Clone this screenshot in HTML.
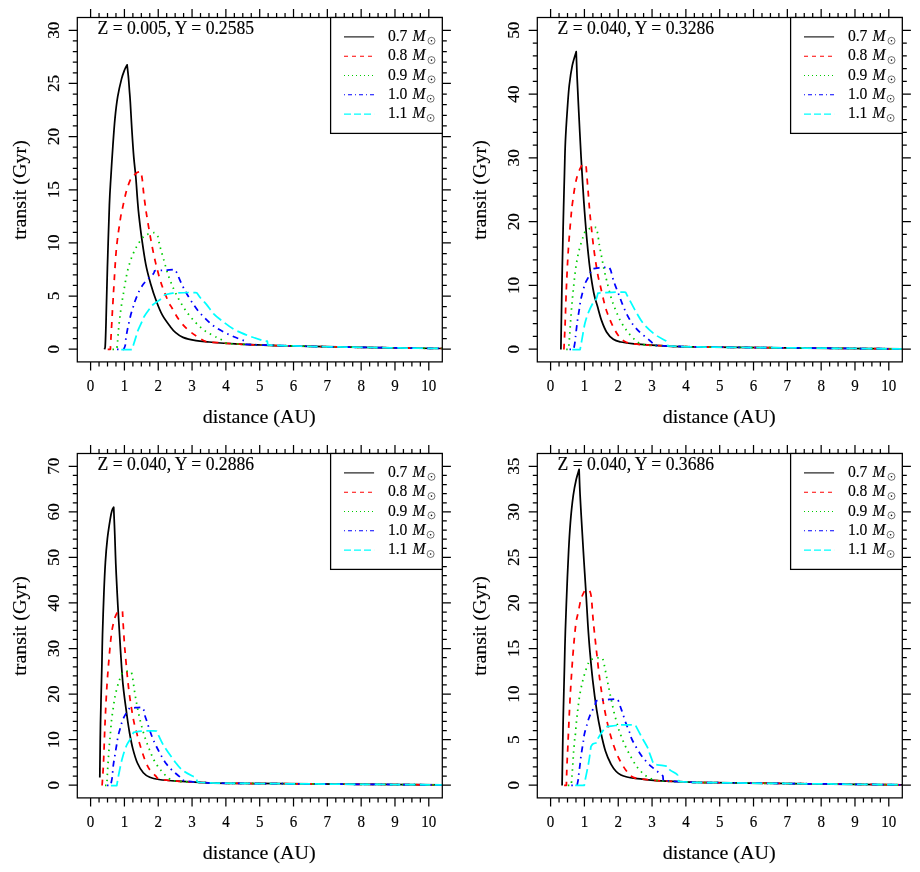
<!DOCTYPE html>
<html><head><meta charset="utf-8"><title>transit</title>
<style>
html,body{margin:0;padding:0;background:#fff;overflow:hidden}
svg{display:block;will-change:transform}
text{font-family:"Liberation Serif",serif;fill:#000;stroke:#000;stroke-width:0.15px}
.ax{stroke:#000;stroke-width:1.25;fill:none;stroke-linecap:butt}
.cv{fill:none;stroke-width:1.75;stroke-linejoin:round;stroke-linecap:butt}
.lg{fill:none;stroke-width:1.05}
.tk{font-size:16px;text-anchor:middle}
.lb{font-size:20px;text-anchor:middle}
.tt{font-size:17.5px}
.le{font-size:16.5px}
</style></head>
<body>
<svg width="920" height="872" viewBox="0 0 920 872">
<rect width="920" height="872" fill="#fff"/>
<g transform="translate(0,0)">
<clipPath id="c0"><rect x="77.3" y="17.5" width="365" height="344.4"/></clipPath>
<g clip-path="url(#c0)">
<path class="cv" stroke="#000000" d="M104.3 349.3 C104.45 348.83 104.93 350.13 105.2 346.5 C105.47 342.87 105.7 334.1 105.9 327.5 C106.1 320.9 106.15 316.77 106.4 306.9 C106.65 297.03 106.9 285.28 107.4 268.3 C107.9 251.32 108.82 220.22 109.4 205 C109.98 189.78 110.32 186.88 110.9 177 C111.48 167.12 112.22 155.48 112.9 145.7 C113.58 135.92 114.2 126.47 115 118.3 C115.8 110.13 116.62 103.23 117.7 96.7 C118.78 90.17 120.35 83.58 121.5 79.1 C122.65 74.62 123.67 72.17 124.6 69.8 C125.53 67.43 126.68 65.72 127.1 64.9 L127.1 64.9 C127.33 67.08 128.12 73.82 128.5 78 C128.88 82.18 129.1 86 129.4 90 C129.7 94 129.88 95.33 130.3 102 C130.72 108.67 131.32 120.77 131.9 130 C132.48 139.23 133.15 149.57 133.8 157.4 C134.45 165.23 135.18 169.9 135.8 177 C136.42 184.1 136.98 193.6 137.5 200 C138.02 206.4 138.18 208.92 138.9 215.4 C139.62 221.88 140.65 230.75 141.8 238.9 C142.95 247.05 144.32 256.8 145.8 264.3 C147.28 271.8 148.92 277.7 150.7 283.9 C152.48 290.1 154.55 296.28 156.5 301.5 C158.45 306.72 160.12 311.03 162.4 315.2 C164.68 319.37 168.03 323.63 170.2 326.5 C172.37 329.37 173.27 330.58 175.4 332.4 C177.53 334.22 179.55 336.02 183 337.4 C186.45 338.78 191.75 339.93 196.1 340.7 C200.45 341.47 202.58 341.47 209.1 342 C215.62 342.53 226.5 343.4 235.2 343.9 C243.9 344.4 252.6 344.68 261.3 345 C270 345.32 272.62 345.43 287.4 345.8 C302.18 346.17 324.18 346.75 350 347.2 C375.82 347.65 426.92 348.28 442.3 348.5"/>
<path class="cv" stroke="#ff0000" stroke-dasharray="6 6" d="M107.7 349.3 L110.4 349.3 L110.4 349.3 C110.5 347.28 110.78 341.28 111 337.2 C111.22 333.12 111.48 328.82 111.7 324.8 C111.92 320.78 112.08 317 112.3 313.1 C112.52 309.2 112.75 305.62 113 301.4 C113.25 297.18 113.23 296.58 113.8 287.8 C114.37 279.02 115.32 260.12 116.4 248.7 C117.48 237.28 119.28 226.03 120.3 219.3 C121.32 212.57 121.55 212.75 122.5 208.3 C123.45 203.85 124.77 197.17 126 192.6 C127.23 188.03 128.77 183.5 129.9 180.9 C131.03 178.3 131.67 178.37 132.8 177 C133.93 175.63 135.38 173.62 136.7 172.7 C138.02 171.78 140.03 171.7 140.7 171.5 L140.7 171.5 C140.95 172.73 141.72 175.38 142.2 178.9 C142.68 182.42 143.05 187.87 143.6 192.6 C144.15 197.33 144.98 203.5 145.5 207.3 C146.02 211.1 145.83 210.13 146.7 215.4 C147.57 220.67 149.23 231.07 150.7 238.9 C152.17 246.73 153.72 254.9 155.5 262.4 C157.28 269.9 159.27 277.38 161.4 283.9 C163.53 290.42 166.53 297.48 168.3 301.5 C170.07 305.52 170.3 305.07 172 308 C173.7 310.93 176 315.62 178.5 319.1 C181 322.58 183.97 326.03 187 328.9 C190.03 331.77 193.67 334.23 196.7 336.3 C199.73 338.37 203.13 340.35 205.2 341.3 C207.27 342.25 204.1 341.57 209.1 342 C214.1 342.43 226.5 343.4 235.2 343.9 C243.9 344.4 252.6 344.68 261.3 345 C270 345.32 272.62 345.43 287.4 345.8 C302.18 346.17 324.18 346.75 350 347.2 C375.82 347.65 426.92 348.28 442.3 348.5"/>
<path class="cv" stroke="#00cd00" stroke-dasharray="1.5 4.5" d="M112.5 349.3 L116.8 349.3 L116.8 349.3 C116.93 347.95 117.3 344.58 117.6 341.2 C117.9 337.82 118.22 333.03 118.6 329 C118.98 324.97 119.42 321 119.9 317 C120.38 313 120.9 309 121.5 305 C122.1 301 122.83 296.97 123.5 293 C124.17 289.03 124.77 285.13 125.5 281.2 C126.23 277.27 126.88 273.35 127.9 269.4 C128.92 265.45 130.13 261.33 131.6 257.5 C133.07 253.67 134.75 249.85 136.7 246.4 C138.65 242.95 141.38 238.87 143.3 236.8 C145.22 234.73 146.38 234.7 148.2 234 C150.02 233.3 153.2 232.83 154.2 232.6 L154.2 232.6 C154.8 233.23 156.98 234.75 157.8 236.4 C158.62 238.05 158.65 240.5 159.1 242.5 C159.55 244.5 159.72 245.5 160.5 248.4 C161.28 251.3 162.7 256.03 163.8 259.9 C164.9 263.77 165.87 267.73 167.1 271.6 C168.33 275.47 169.73 279.42 171.2 283.1 C172.67 286.78 174.1 290.08 175.9 293.7 C177.7 297.32 179.87 301.32 182 304.8 C184.13 308.28 186.25 311.45 188.7 314.6 C191.15 317.75 193.83 320.88 196.7 323.7 C199.57 326.52 202.57 329.22 205.9 331.5 C209.23 333.78 214.03 335.98 216.7 337.4 C219.37 338.82 220.23 339.02 221.9 340 C223.57 340.98 224.48 342.65 226.7 343.3 C228.92 343.95 229.43 343.62 235.2 343.9 C240.97 344.18 252.6 344.68 261.3 345 C270 345.32 272.62 345.43 287.4 345.8 C302.18 346.17 324.18 346.75 350 347.2 C375.82 347.65 426.92 348.28 442.3 348.5"/>
<path class="cv" stroke="#0000ff" stroke-dasharray="1.5 4.5 6 4.5" d="M117 349.3 L123.7 349.3 L123.7 349.3 C123.97 348.6 124.95 346.75 125.3 345.1 C125.65 343.45 125.48 341.78 125.8 339.4 C126.12 337.02 126.68 333.55 127.2 330.8 C127.72 328.05 128.3 325.57 128.9 322.9 C129.5 320.23 130.08 317.47 130.8 314.8 C131.52 312.13 132.52 309.13 133.2 306.9 C133.88 304.67 133.93 303.98 134.9 301.4 C135.87 298.82 137.55 294.33 139 291.4 C140.45 288.47 141.93 286.05 143.6 283.8 C145.27 281.55 147.37 279.57 149 277.9 C150.63 276.23 152.47 274.98 153.4 273.8 C154.33 272.62 154.4 271.3 154.6 270.8 L154.6 270.8 C155.73 270.73 159.32 270.52 161.4 270.4 C163.48 270.28 164.97 270.25 167.1 270.1 C169.23 269.95 173.02 269.6 174.2 269.5 L174.2 269.5 C174.6 269.97 175.67 270.57 176.6 272.3 C177.53 274.03 178.67 277.35 179.8 279.9 C180.93 282.45 182.32 285.42 183.4 287.6 C184.48 289.78 184.9 290.62 186.3 293 C187.7 295.38 189.85 298.95 191.8 301.9 C193.75 304.85 195.65 307.83 198 310.7 C200.35 313.57 203.22 316.5 205.9 319.1 C208.58 321.7 211.17 324.17 214.1 326.3 C217.03 328.43 220.2 330.17 223.5 331.9 C226.8 333.63 230.47 335.23 233.9 336.7 C237.33 338.17 242.17 339.95 244.1 340.7 C246.03 341.45 245.27 341.12 245.5 341.2 L245.5 341.2 L245.8 344.4 L245.8 344.4 C248.38 344.5 254.37 344.77 261.3 345 C268.23 345.23 272.62 345.43 287.4 345.8 C302.18 346.17 324.18 346.75 350 347.2 C375.82 347.65 426.92 348.28 442.3 348.5"/>
<path class="cv" stroke="#00ffff" stroke-dasharray="10.5 4.5" d="M121.3 349.5 L132.1 349.5 L132 349.4 C132.25 348.62 132.78 346.97 133.5 344.7 C134.22 342.43 135.55 338.2 136.3 335.8 C137.05 333.4 137.03 332.72 138 330.3 C138.97 327.88 141.07 323.6 142.1 321.3 C143.13 319 142.93 318.62 144.2 316.5 C145.47 314.38 148.2 310.6 149.7 308.6 C151.2 306.6 151.28 306.13 153.2 304.5 C155.12 302.87 159.27 300.42 161.2 298.8 C163.13 297.18 164.2 295.47 164.8 294.8 L164.8 294.8 C166.15 294.53 168.93 293.58 172.9 293.2 C176.87 292.82 184.62 292.57 188.6 292.5 C192.58 292.43 195.43 292.75 196.8 292.8 L196.8 292.8 C197.45 293.72 199.13 296.42 200.7 298.3 C202.27 300.18 204.03 301.5 206.2 304.1 C208.37 306.7 211.15 311.18 213.7 313.9 C216.25 316.62 218.13 317.83 221.5 320.4 C224.87 322.97 229.55 326.8 233.9 329.3 C238.25 331.8 242.87 333.57 247.6 335.4 C252.33 337.23 259.02 339.33 262.3 340.3 C265.58 341.27 266.47 341.05 267.3 341.2 L267.3 341.2 L267.8 345 L267.8 345 C271.07 345.13 273.7 345.43 287.4 345.8 C301.1 346.17 324.18 346.75 350 347.2 C375.82 347.65 426.92 348.28 442.3 348.5"/>
</g>
<path class="ax" d="M90.6 361.9 v8.6 M90.6 17.5 v-8.6 M99.05 361.9 v4.5 M99.05 17.5 v-4.5 M107.51 361.9 v4.5 M107.51 17.5 v-4.5 M115.97 361.9 v4.5 M115.97 17.5 v-4.5 M124.42 361.9 v8.6 M124.42 17.5 v-8.6 M132.88 361.9 v4.5 M132.88 17.5 v-4.5 M141.33 361.9 v4.5 M141.33 17.5 v-4.5 M149.78 361.9 v4.5 M149.78 17.5 v-4.5 M158.24 361.9 v8.6 M158.24 17.5 v-8.6 M166.69 361.9 v4.5 M166.69 17.5 v-4.5 M175.15 361.9 v4.5 M175.15 17.5 v-4.5 M183.6 361.9 v4.5 M183.6 17.5 v-4.5 M192.06 361.9 v8.6 M192.06 17.5 v-8.6 M200.51 361.9 v4.5 M200.51 17.5 v-4.5 M208.97 361.9 v4.5 M208.97 17.5 v-4.5 M217.43 361.9 v4.5 M217.43 17.5 v-4.5 M225.88 361.9 v8.6 M225.88 17.5 v-8.6 M234.34 361.9 v4.5 M234.34 17.5 v-4.5 M242.79 361.9 v4.5 M242.79 17.5 v-4.5 M251.25 361.9 v4.5 M251.25 17.5 v-4.5 M259.7 361.9 v8.6 M259.7 17.5 v-8.6 M268.15 361.9 v4.5 M268.15 17.5 v-4.5 M276.61 361.9 v4.5 M276.61 17.5 v-4.5 M285.06 361.9 v4.5 M285.06 17.5 v-4.5 M293.52 361.9 v8.6 M293.52 17.5 v-8.6 M301.98 361.9 v4.5 M301.98 17.5 v-4.5 M310.43 361.9 v4.5 M310.43 17.5 v-4.5 M318.88 361.9 v4.5 M318.88 17.5 v-4.5 M327.34 361.9 v8.6 M327.34 17.5 v-8.6 M335.79 361.9 v4.5 M335.79 17.5 v-4.5 M344.25 361.9 v4.5 M344.25 17.5 v-4.5 M352.71 361.9 v4.5 M352.71 17.5 v-4.5 M361.16 361.9 v8.6 M361.16 17.5 v-8.6 M369.62 361.9 v4.5 M369.62 17.5 v-4.5 M378.07 361.9 v4.5 M378.07 17.5 v-4.5 M386.52 361.9 v4.5 M386.52 17.5 v-4.5 M394.98 361.9 v8.6 M394.98 17.5 v-8.6 M403.43 361.9 v4.5 M403.43 17.5 v-4.5 M411.89 361.9 v4.5 M411.89 17.5 v-4.5 M420.35 361.9 v4.5 M420.35 17.5 v-4.5 M428.8 361.9 v8.6 M428.8 17.5 v-8.6 M77.3 349.2 h-8.6 M442.3 349.2 h8.6 M77.3 338.57 h-4.5 M442.3 338.57 h4.5 M77.3 327.94 h-4.5 M442.3 327.94 h4.5 M77.3 317.31 h-4.5 M442.3 317.31 h4.5 M77.3 306.68 h-4.5 M442.3 306.68 h4.5 M77.3 296.05 h-8.6 M442.3 296.05 h8.6 M77.3 285.42 h-4.5 M442.3 285.42 h4.5 M77.3 274.79 h-4.5 M442.3 274.79 h4.5 M77.3 264.16 h-4.5 M442.3 264.16 h4.5 M77.3 253.53 h-4.5 M442.3 253.53 h4.5 M77.3 242.9 h-8.6 M442.3 242.9 h8.6 M77.3 232.27 h-4.5 M442.3 232.27 h4.5 M77.3 221.64 h-4.5 M442.3 221.64 h4.5 M77.3 211.01 h-4.5 M442.3 211.01 h4.5 M77.3 200.38 h-4.5 M442.3 200.38 h4.5 M77.3 189.75 h-8.6 M442.3 189.75 h8.6 M77.3 179.12 h-4.5 M442.3 179.12 h4.5 M77.3 168.49 h-4.5 M442.3 168.49 h4.5 M77.3 157.86 h-4.5 M442.3 157.86 h4.5 M77.3 147.23 h-4.5 M442.3 147.23 h4.5 M77.3 136.6 h-8.6 M442.3 136.6 h8.6 M77.3 125.97 h-4.5 M442.3 125.97 h4.5 M77.3 115.34 h-4.5 M442.3 115.34 h4.5 M77.3 104.71 h-4.5 M442.3 104.71 h4.5 M77.3 94.08 h-4.5 M442.3 94.08 h4.5 M77.3 83.45 h-8.6 M442.3 83.45 h8.6 M77.3 72.82 h-4.5 M442.3 72.82 h4.5 M77.3 62.19 h-4.5 M442.3 62.19 h4.5 M77.3 51.56 h-4.5 M442.3 51.56 h4.5 M77.3 40.93 h-4.5 M442.3 40.93 h4.5 M77.3 30.3 h-8.6 M442.3 30.3 h8.6"/>
<rect class="ax" x="77.3" y="17.5" width="365" height="344.4"/>
<text class="tk" transform="translate(90.6,390.9) scale(0.94,1.06)">0</text><text class="tk" transform="translate(124.42,390.9) scale(0.94,1.06)">1</text><text class="tk" transform="translate(158.24,390.9) scale(0.94,1.06)">2</text><text class="tk" transform="translate(192.06,390.9) scale(0.94,1.06)">3</text><text class="tk" transform="translate(225.88,390.9) scale(0.94,1.06)">4</text><text class="tk" transform="translate(259.7,390.9) scale(0.94,1.06)">5</text><text class="tk" transform="translate(293.52,390.9) scale(0.94,1.06)">6</text><text class="tk" transform="translate(327.34,390.9) scale(0.94,1.06)">7</text><text class="tk" transform="translate(361.16,390.9) scale(0.94,1.06)">8</text><text class="tk" transform="translate(394.98,390.9) scale(0.94,1.06)">9</text><text class="tk" transform="translate(428.8,390.9) scale(0.94,1.06)">10</text>
<text class="tk" transform="translate(58.5,349.2) rotate(-90) scale(1.07,1.08)">0</text><text class="tk" transform="translate(58.5,296.05) rotate(-90) scale(1.07,1.08)">5</text><text class="tk" transform="translate(58.5,242.9) rotate(-90) scale(1.07,1.08)">10</text><text class="tk" transform="translate(58.5,189.75) rotate(-90) scale(1.07,1.08)">15</text><text class="tk" transform="translate(58.5,136.6) rotate(-90) scale(1.07,1.08)">20</text><text class="tk" transform="translate(58.5,83.45) rotate(-90) scale(1.07,1.08)">25</text><text class="tk" transform="translate(58.5,30.3) rotate(-90) scale(1.07,1.08)">30</text>
<text class="lb" transform="translate(259.1,423.2) scale(1.003,0.95)">distance (AU)</text>
<text class="lb" transform="translate(25.5,190) rotate(-90) scale(1.004,0.95)">transit (Gyr)</text>
<text class="tt" transform="translate(97.5,34.25) scale(1.008,1.035)">Z = 0.005, Y = 0.2585</text>
<rect class="ax" x="330.6" y="17.5" width="111.7" height="115.9" fill="#fff" style="fill:#fff"/>
<path class="lg" stroke="#000000" d="M344 36.9 H374.1"/><text class="le" transform="translate(387.9,41.1) scale(0.945,1.07)">0.7 <tspan font-style="italic" dx="1.2">M</tspan></text><circle cx="431.5" cy="40.8" r="3.5" fill="none" stroke="#000" stroke-width="0.55"/><circle cx="431.5" cy="40.8" r="0.8" fill="#000"/>
<path class="lg" stroke="#ff0000" stroke-dasharray="4 4" d="M344 56.2 H374.1"/><text class="le" transform="translate(387.9,60.4) scale(0.945,1.07)">0.8 <tspan font-style="italic" dx="1.2">M</tspan></text><circle cx="431.5" cy="60.1" r="3.5" fill="none" stroke="#000" stroke-width="0.55"/><circle cx="431.5" cy="60.1" r="0.8" fill="#000"/>
<path class="lg" stroke="#00cd00" stroke-dasharray="1 3" d="M344 75.5 H374.1"/><text class="le" transform="translate(387.9,79.7) scale(0.945,1.07)">0.9 <tspan font-style="italic" dx="1.2">M</tspan></text><circle cx="431.5" cy="79.4" r="3.5" fill="none" stroke="#000" stroke-width="0.55"/><circle cx="431.5" cy="79.4" r="0.8" fill="#000"/>
<path class="lg" stroke="#0000ff" stroke-dasharray="1 3 4 3" d="M344 94.8 H374.1"/><text class="le" transform="translate(387.9,99) scale(0.945,1.07)">1.0 <tspan font-style="italic" dx="1.2">M</tspan></text><circle cx="430.6" cy="98.7" r="3.5" fill="none" stroke="#000" stroke-width="0.55"/><circle cx="430.6" cy="98.7" r="0.8" fill="#000"/>
<path class="lg" stroke="#00ffff" stroke-dasharray="7 3" d="M344 114.1 H374.1"/><text class="le" transform="translate(387.9,118.3) scale(0.945,1.07)">1.1 <tspan font-style="italic" dx="1.2">M</tspan></text><circle cx="430.6" cy="118" r="3.5" fill="none" stroke="#000" stroke-width="0.55"/><circle cx="430.6" cy="118" r="0.8" fill="#000"/>
</g>
<g transform="translate(460,0)">
<clipPath id="c1"><rect x="77.3" y="17.5" width="365" height="344.4"/></clipPath>
<g clip-path="url(#c1)">
<path class="cv" stroke="#000000" d="M100.9 349.5 C101.07 339.22 101.53 307.87 101.9 287.8 C102.27 267.73 102.78 243.73 103.1 229.1 C103.42 214.47 103.57 209.35 103.8 200 C104.03 190.65 104.23 182.72 104.5 173 C104.77 163.28 104.92 152.45 105.4 141.7 C105.88 130.95 106.75 117.95 107.4 108.5 C108.05 99.05 108.48 92.18 109.3 85 C110.12 77.82 111.15 70.95 112.3 65.4 C113.45 59.85 115.55 53.98 116.2 51.7 L116.2 51.7 C116.37 56.27 116.72 68 117.2 79.1 C117.68 90.2 118.45 105.25 119.1 118.3 C119.75 131.35 120.45 145.67 121.1 157.4 C121.75 169.13 122.42 179.6 123 188.7 C123.58 197.8 123.93 203.3 124.6 212 C125.27 220.7 126.12 231.52 127 240.9 C127.88 250.28 128.75 259.53 129.9 268.3 C131.05 277.07 132.65 287.2 133.9 293.5 C135.15 299.8 136.13 301.62 137.4 306.1 C138.67 310.58 139.95 316.05 141.5 320.4 C143.05 324.75 144.73 329.05 146.7 332.2 C148.67 335.35 150.9 337.67 153.3 339.3 C155.7 340.93 157.63 341.23 161.1 342 C164.57 342.77 167.58 343.28 174.1 343.9 C180.62 344.52 187.15 345.17 200.2 345.7 C213.25 346.23 212.05 346.57 252.4 347.1 C292.75 347.63 410.65 348.6 442.3 348.9"/>
<path class="cv" stroke="#ff0000" stroke-dasharray="6 6" d="M103.9 349.5 C104.08 345.75 104.58 337.28 105 327 C105.42 316.72 105.83 300.85 106.4 287.8 C106.97 274.75 107.58 261.08 108.4 248.7 C109.22 236.32 110.65 220.88 111.3 213.5 C111.95 206.12 111.65 209.18 112.3 204.4 C112.95 199.62 114.22 190.03 115.2 184.8 C116.18 179.57 117.07 176.3 118.2 173 C119.33 169.7 121.37 166.33 122 165 L122 165 L126 164.8 L126 164.8 C126.32 168.78 127.35 181.78 127.9 188.7 C128.45 195.62 128.87 201.2 129.3 206.3 C129.73 211.4 129.75 212.23 130.5 219.3 C131.25 226.37 132.6 239.57 133.8 248.7 C135 257.83 136.63 268.02 137.7 274.1 C138.77 280.18 139.13 280.52 140.2 285.2 C141.27 289.88 142.9 297.52 144.1 302.2 C145.3 306.88 146.08 309.62 147.4 313.3 C148.72 316.98 150.27 320.72 152 324.3 C153.73 327.88 155.75 331.97 157.8 334.8 C159.85 337.63 161.58 339.78 164.3 341.3 C167.02 342.82 168.12 343.17 174.1 343.9 C180.08 344.63 187.15 345.17 200.2 345.7 C213.25 346.23 212.05 346.57 252.4 347.1 C292.75 347.63 410.65 348.6 442.3 348.9"/>
<path class="cv" stroke="#00cd00" stroke-dasharray="1.5 4.5" d="M106.2 349.3 L108.5 349.3 L108.5 349.3 C108.57 348.65 108.68 348.05 108.9 345.4 C109.12 342.75 109.52 337.43 109.8 333.4 C110.08 329.37 110.32 325.25 110.6 321.2 C110.88 317.15 111.17 313.18 111.5 309.1 C111.83 305.02 112.22 300.72 112.6 296.7 C112.98 292.68 113.38 288.95 113.8 285 C114.22 281.05 114.58 277.03 115.1 273 C115.62 268.97 116.18 264.78 116.9 260.8 C117.62 256.82 118.4 252.98 119.4 249.1 C120.4 245.22 121.95 240.38 122.9 237.5 C123.85 234.62 123.95 233.3 125.1 231.8 C126.25 230.3 128.02 229.23 129.8 228.5 C131.58 227.77 134.8 227.58 135.8 227.4 L135.8 227.4 C136.1 228.35 137 230.12 137.6 233.1 C138.2 236.08 138.72 241.27 139.4 245.3 C140.08 249.33 140.95 253.38 141.7 257.3 C142.45 261.22 143.07 264.9 143.9 268.8 C144.73 272.7 145.47 275.78 146.7 280.7 C147.93 285.62 149.83 293.47 151.3 298.3 C152.77 303.13 153.98 305.97 155.5 309.7 C157.02 313.43 158.48 317.13 160.4 320.7 C162.32 324.27 164.53 327.88 167 331.1 C169.47 334.32 172.42 337.75 175.2 340 C177.98 342.25 179.53 343.65 183.7 344.6 C187.87 345.55 188.75 345.28 200.2 345.7 C211.65 346.12 212.05 346.57 252.4 347.1 C292.75 347.63 410.65 348.6 442.3 348.9"/>
<path class="cv" stroke="#0000ff" stroke-dasharray="1.5 4.5 6 4.5" d="M109.5 349.3 L113.7 349.3 L113.7 349.3 C113.9 348.2 114.6 344.75 114.9 342.7 C115.2 340.65 115.23 339.38 115.5 337 C115.77 334.62 116.17 331.18 116.5 328.4 C116.83 325.62 117.1 323.05 117.5 320.3 C117.9 317.55 118.47 314.7 118.9 311.9 C119.33 309.1 119.73 305.78 120.1 303.5 C120.47 301.22 120.47 300.85 121.1 298.2 C121.73 295.55 123.12 290.3 123.9 287.6 C124.68 284.9 125.03 283.75 125.8 282 C126.57 280.25 127.7 278.73 128.5 277.1 C129.3 275.47 129.87 273.58 130.6 272.2 C131.33 270.82 132.52 269.37 132.9 268.8 L132.9 268.8 C133.93 268.63 137.18 268.05 139.1 267.8 C141.02 267.55 142.72 267.38 144.4 267.3 C146.08 267.22 148.4 267.3 149.2 267.3 L149.2 267.3 C149.47 267.83 150.18 268.62 150.8 270.5 C151.42 272.38 152.22 276.27 152.9 278.6 C153.58 280.93 153.97 281.98 154.9 284.5 C155.83 287.02 157.25 290.43 158.5 293.7 C159.75 296.97 160.98 300.62 162.4 304.1 C163.82 307.58 165.27 311.23 167 314.6 C168.73 317.97 170.63 321.33 172.8 324.3 C174.97 327.27 177.38 329.9 180 332.4 C182.62 334.9 186.22 337.38 188.5 339.3 C190.78 341.22 191.75 342.83 193.7 343.9 C195.65 344.97 190.42 345.17 200.2 345.7 C209.98 346.23 212.05 346.57 252.4 347.1 C292.75 347.63 410.65 348.6 442.3 348.9"/>
<path class="cv" stroke="#00ffff" stroke-dasharray="10.5 4.5" d="M112.3 349.5 L120.1 349.5 L120.1 349.5 C120.43 347.7 121.28 343.12 122.1 338.7 C122.92 334.28 123.87 327.57 125 323 C126.13 318.43 127.43 314.88 128.9 311.3 C130.37 307.72 132.57 303.57 133.8 301.5 C135.03 299.43 135.62 300.3 136.3 298.9 C136.98 297.5 137.63 294.07 137.9 293.1 L137.9 293.1 C138.62 293.05 139.1 292.98 142.2 292.8 C145.3 292.62 152.58 292.08 156.5 292 C160.42 291.92 164.17 292.25 165.7 292.3 L165.7 292.3 C166.2 293.3 166.97 295.02 168.7 298.3 C170.43 301.58 173.57 307.67 176.1 312 C178.63 316.33 180.75 320.55 183.9 324.3 C187.05 328.05 191.2 331.67 195 334.5 C198.8 337.33 204.63 339.95 206.7 341.3 C208.77 342.65 207.28 342.38 207.4 342.6 L207.4 342.6 L207.8 346 L207.8 346 C215.23 346.18 213.32 346.62 252.4 347.1 C291.48 347.58 410.65 348.6 442.3 348.9"/>
</g>
<path class="ax" d="M90.6 361.9 v8.6 M90.6 17.5 v-8.6 M99.05 361.9 v4.5 M99.05 17.5 v-4.5 M107.51 361.9 v4.5 M107.51 17.5 v-4.5 M115.97 361.9 v4.5 M115.97 17.5 v-4.5 M124.42 361.9 v8.6 M124.42 17.5 v-8.6 M132.88 361.9 v4.5 M132.88 17.5 v-4.5 M141.33 361.9 v4.5 M141.33 17.5 v-4.5 M149.78 361.9 v4.5 M149.78 17.5 v-4.5 M158.24 361.9 v8.6 M158.24 17.5 v-8.6 M166.69 361.9 v4.5 M166.69 17.5 v-4.5 M175.15 361.9 v4.5 M175.15 17.5 v-4.5 M183.6 361.9 v4.5 M183.6 17.5 v-4.5 M192.06 361.9 v8.6 M192.06 17.5 v-8.6 M200.51 361.9 v4.5 M200.51 17.5 v-4.5 M208.97 361.9 v4.5 M208.97 17.5 v-4.5 M217.43 361.9 v4.5 M217.43 17.5 v-4.5 M225.88 361.9 v8.6 M225.88 17.5 v-8.6 M234.34 361.9 v4.5 M234.34 17.5 v-4.5 M242.79 361.9 v4.5 M242.79 17.5 v-4.5 M251.25 361.9 v4.5 M251.25 17.5 v-4.5 M259.7 361.9 v8.6 M259.7 17.5 v-8.6 M268.15 361.9 v4.5 M268.15 17.5 v-4.5 M276.61 361.9 v4.5 M276.61 17.5 v-4.5 M285.06 361.9 v4.5 M285.06 17.5 v-4.5 M293.52 361.9 v8.6 M293.52 17.5 v-8.6 M301.98 361.9 v4.5 M301.98 17.5 v-4.5 M310.43 361.9 v4.5 M310.43 17.5 v-4.5 M318.88 361.9 v4.5 M318.88 17.5 v-4.5 M327.34 361.9 v8.6 M327.34 17.5 v-8.6 M335.79 361.9 v4.5 M335.79 17.5 v-4.5 M344.25 361.9 v4.5 M344.25 17.5 v-4.5 M352.71 361.9 v4.5 M352.71 17.5 v-4.5 M361.16 361.9 v8.6 M361.16 17.5 v-8.6 M369.62 361.9 v4.5 M369.62 17.5 v-4.5 M378.07 361.9 v4.5 M378.07 17.5 v-4.5 M386.52 361.9 v4.5 M386.52 17.5 v-4.5 M394.98 361.9 v8.6 M394.98 17.5 v-8.6 M403.43 361.9 v4.5 M403.43 17.5 v-4.5 M411.89 361.9 v4.5 M411.89 17.5 v-4.5 M420.35 361.9 v4.5 M420.35 17.5 v-4.5 M428.8 361.9 v8.6 M428.8 17.5 v-8.6 M77.3 349.2 h-8.6 M442.3 349.2 h8.6 M77.3 336.44 h-4.5 M442.3 336.44 h4.5 M77.3 323.69 h-4.5 M442.3 323.69 h4.5 M77.3 310.93 h-4.5 M442.3 310.93 h4.5 M77.3 298.18 h-4.5 M442.3 298.18 h4.5 M77.3 285.42 h-8.6 M442.3 285.42 h8.6 M77.3 272.66 h-4.5 M442.3 272.66 h4.5 M77.3 259.91 h-4.5 M442.3 259.91 h4.5 M77.3 247.15 h-4.5 M442.3 247.15 h4.5 M77.3 234.4 h-4.5 M442.3 234.4 h4.5 M77.3 221.64 h-8.6 M442.3 221.64 h8.6 M77.3 208.88 h-4.5 M442.3 208.88 h4.5 M77.3 196.13 h-4.5 M442.3 196.13 h4.5 M77.3 183.37 h-4.5 M442.3 183.37 h4.5 M77.3 170.62 h-4.5 M442.3 170.62 h4.5 M77.3 157.86 h-8.6 M442.3 157.86 h8.6 M77.3 145.1 h-4.5 M442.3 145.1 h4.5 M77.3 132.35 h-4.5 M442.3 132.35 h4.5 M77.3 119.59 h-4.5 M442.3 119.59 h4.5 M77.3 106.84 h-4.5 M442.3 106.84 h4.5 M77.3 94.08 h-8.6 M442.3 94.08 h8.6 M77.3 81.32 h-4.5 M442.3 81.32 h4.5 M77.3 68.57 h-4.5 M442.3 68.57 h4.5 M77.3 55.81 h-4.5 M442.3 55.81 h4.5 M77.3 43.06 h-4.5 M442.3 43.06 h4.5 M77.3 30.3 h-8.6 M442.3 30.3 h8.6"/>
<rect class="ax" x="77.3" y="17.5" width="365" height="344.4"/>
<text class="tk" transform="translate(90.6,390.9) scale(0.94,1.06)">0</text><text class="tk" transform="translate(124.42,390.9) scale(0.94,1.06)">1</text><text class="tk" transform="translate(158.24,390.9) scale(0.94,1.06)">2</text><text class="tk" transform="translate(192.06,390.9) scale(0.94,1.06)">3</text><text class="tk" transform="translate(225.88,390.9) scale(0.94,1.06)">4</text><text class="tk" transform="translate(259.7,390.9) scale(0.94,1.06)">5</text><text class="tk" transform="translate(293.52,390.9) scale(0.94,1.06)">6</text><text class="tk" transform="translate(327.34,390.9) scale(0.94,1.06)">7</text><text class="tk" transform="translate(361.16,390.9) scale(0.94,1.06)">8</text><text class="tk" transform="translate(394.98,390.9) scale(0.94,1.06)">9</text><text class="tk" transform="translate(428.8,390.9) scale(0.94,1.06)">10</text>
<text class="tk" transform="translate(58.5,349.2) rotate(-90) scale(1.07,1.08)">0</text><text class="tk" transform="translate(58.5,285.42) rotate(-90) scale(1.07,1.08)">10</text><text class="tk" transform="translate(58.5,221.64) rotate(-90) scale(1.07,1.08)">20</text><text class="tk" transform="translate(58.5,157.86) rotate(-90) scale(1.07,1.08)">30</text><text class="tk" transform="translate(58.5,94.08) rotate(-90) scale(1.07,1.08)">40</text><text class="tk" transform="translate(58.5,30.3) rotate(-90) scale(1.07,1.08)">50</text>
<text class="lb" transform="translate(259.1,423.2) scale(1.003,0.95)">distance (AU)</text>
<text class="lb" transform="translate(25.5,190) rotate(-90) scale(1.004,0.95)">transit (Gyr)</text>
<text class="tt" transform="translate(97.5,34.25) scale(1.008,1.035)">Z = 0.040, Y = 0.3286</text>
<rect class="ax" x="330.6" y="17.5" width="111.7" height="115.9" fill="#fff" style="fill:#fff"/>
<path class="lg" stroke="#000000" d="M344 36.9 H374.1"/><text class="le" transform="translate(387.9,41.1) scale(0.945,1.07)">0.7 <tspan font-style="italic" dx="1.2">M</tspan></text><circle cx="431.5" cy="40.8" r="3.5" fill="none" stroke="#000" stroke-width="0.55"/><circle cx="431.5" cy="40.8" r="0.8" fill="#000"/>
<path class="lg" stroke="#ff0000" stroke-dasharray="4 4" d="M344 56.2 H374.1"/><text class="le" transform="translate(387.9,60.4) scale(0.945,1.07)">0.8 <tspan font-style="italic" dx="1.2">M</tspan></text><circle cx="431.5" cy="60.1" r="3.5" fill="none" stroke="#000" stroke-width="0.55"/><circle cx="431.5" cy="60.1" r="0.8" fill="#000"/>
<path class="lg" stroke="#00cd00" stroke-dasharray="1 3" d="M344 75.5 H374.1"/><text class="le" transform="translate(387.9,79.7) scale(0.945,1.07)">0.9 <tspan font-style="italic" dx="1.2">M</tspan></text><circle cx="431.5" cy="79.4" r="3.5" fill="none" stroke="#000" stroke-width="0.55"/><circle cx="431.5" cy="79.4" r="0.8" fill="#000"/>
<path class="lg" stroke="#0000ff" stroke-dasharray="1 3 4 3" d="M344 94.8 H374.1"/><text class="le" transform="translate(387.9,99) scale(0.945,1.07)">1.0 <tspan font-style="italic" dx="1.2">M</tspan></text><circle cx="430.6" cy="98.7" r="3.5" fill="none" stroke="#000" stroke-width="0.55"/><circle cx="430.6" cy="98.7" r="0.8" fill="#000"/>
<path class="lg" stroke="#00ffff" stroke-dasharray="7 3" d="M344 114.1 H374.1"/><text class="le" transform="translate(387.9,118.3) scale(0.945,1.07)">1.1 <tspan font-style="italic" dx="1.2">M</tspan></text><circle cx="430.6" cy="118" r="3.5" fill="none" stroke="#000" stroke-width="0.55"/><circle cx="430.6" cy="118" r="0.8" fill="#000"/>
</g>
<g transform="translate(0,436)">
<clipPath id="c2"><rect x="77.3" y="17.5" width="365" height="344.4"/></clipPath>
<g clip-path="url(#c2)">
<path class="cv" stroke="#000000" d="M99.8 341.6 C99.92 332.63 100.15 306.55 100.5 287.8 C100.85 269.05 101.57 243.9 101.9 229.1 C102.23 214.3 102.17 210.95 102.5 199 C102.83 187.05 103.42 169.55 103.9 157.4 C104.38 145.25 104.82 135.23 105.4 126.1 C105.98 116.97 106.58 109.85 107.4 102.6 C108.22 95.35 109.53 87.27 110.3 82.6 C111.07 77.93 111.43 76.5 112 74.6 C112.57 72.7 113.42 71.77 113.7 71.2 L113.7 71.2 C113.88 75.78 114.45 89.23 114.8 98.7 C115.15 108.17 115.4 118.22 115.8 128 C116.2 137.78 116.72 148.07 117.2 157.4 C117.68 166.73 118.15 174.57 118.7 184 C119.25 193.43 119.78 203.22 120.5 214 C121.22 224.78 121.92 237.7 123 248.7 C124.08 259.7 125.9 271.95 127 280 C128.1 288.05 128.63 291.57 129.6 297 C130.57 302.43 131.5 307.6 132.8 312.6 C134.1 317.6 135.65 322.98 137.4 327 C139.15 331.02 141.23 334.32 143.3 336.7 C145.37 339.08 147.2 340.17 149.8 341.3 C152.4 342.43 154.33 342.85 158.9 343.5 C163.47 344.15 169.8 344.68 177.2 345.2 C184.6 345.72 192.43 346.23 203.3 346.6 C214.17 346.97 202.57 347.02 242.4 347.4 C282.23 347.78 408.98 348.65 442.3 348.9"/>
<path class="cv" stroke="#ff0000" stroke-dasharray="6 6" d="M102.1 349.5 C102.33 345.75 103.02 337.28 103.5 327 C103.98 316.72 104.42 300.85 105 287.8 C105.58 274.75 106.28 260.12 107 248.7 C107.72 237.28 108.68 226.68 109.3 219.3 C109.92 211.92 110.2 208.85 110.7 204.4 C111.2 199.95 111.55 196.52 112.3 192.6 C113.05 188.68 114.25 183.75 115.2 180.9 C116.15 178.05 117.53 176.4 118 175.5 L118 175.5 L122.5 175.3 L122.5 175.3 C122.58 176.88 122.72 179.95 123 184.8 C123.28 189.65 123.8 198.65 124.2 204.4 C124.6 210.15 124.62 210.93 125.4 219.3 C126.18 227.67 127.55 243.83 128.9 254.6 C130.25 265.37 132.08 276.4 133.5 283.9 C134.92 291.4 136.2 295.03 137.4 299.6 C138.6 304.17 139.5 307.4 140.7 311.3 C141.9 315.2 143.2 319.42 144.6 323 C146 326.58 147.25 329.97 149.1 332.8 C150.95 335.63 153.85 338.25 155.7 340 C157.55 341.75 156.62 342.43 160.2 343.3 C163.78 344.17 170.02 344.65 177.2 345.2 C184.38 345.75 192.43 346.23 203.3 346.6 C214.17 346.97 202.57 347.02 242.4 347.4 C282.23 347.78 408.98 348.65 442.3 348.9"/>
<path class="cv" stroke="#00cd00" stroke-dasharray="1.5 4.5" d="M105 349.4 L106.7 349.4 L106.7 349.4 C106.75 348.67 106.83 347.8 107 345 C107.17 342.2 107.45 336.68 107.7 332.6 C107.95 328.52 108.22 324.52 108.5 320.5 C108.78 316.48 109.07 312.52 109.4 308.5 C109.73 304.48 110.15 300.4 110.5 296.4 C110.85 292.4 111.05 288.5 111.5 284.5 C111.95 280.5 112.62 276.4 113.2 272.4 C113.78 268.4 114.22 264.43 115 260.5 C115.78 256.57 117.08 251.75 117.9 248.8 C118.72 245.85 119.17 244.73 119.9 242.8 C120.63 240.87 121 238.47 122.3 237.2 C123.6 235.93 126.17 235.37 127.7 235.2 C129.23 235.03 130.87 236.03 131.5 236.2 L131.5 236.2 C131.72 237.35 132.3 239.95 132.8 243.1 C133.3 246.25 133.88 251.13 134.5 255.1 C135.12 259.07 135.77 262.95 136.5 266.9 C137.23 270.85 138.03 274.88 138.9 278.8 C139.77 282.72 140.65 286.5 141.7 290.4 C142.75 294.3 143.92 298.35 145.2 302.2 C146.48 306.05 147.88 309.75 149.4 313.5 C150.92 317.25 152.32 321.15 154.3 324.7 C156.28 328.25 158.75 331.77 161.3 334.8 C163.85 337.83 166.95 341.17 169.6 342.9 C172.25 344.63 171.58 344.58 177.2 345.2 C182.82 345.82 192.43 346.23 203.3 346.6 C214.17 346.97 202.57 347.02 242.4 347.4 C282.23 347.78 408.98 348.65 442.3 348.9"/>
<path class="cv" stroke="#0000ff" stroke-dasharray="1.5 4.5 6 4.5" d="M107 349.4 L110.6 349.4 L110.6 349.4 C110.87 348.08 111.77 344.7 112.2 341.5 C112.63 338.3 112.75 333.9 113.2 330.2 C113.65 326.5 114.32 322.92 114.9 319.3 C115.48 315.68 116.25 311.25 116.7 308.5 C117.15 305.75 117.23 304.73 117.6 302.8 C117.97 300.87 118.42 298.78 118.9 296.9 C119.38 295.02 120.02 293.22 120.5 291.5 C120.98 289.78 121.22 288.32 121.8 286.6 C122.38 284.88 123.23 282.83 124 281.2 C124.77 279.57 125.47 278.32 126.4 276.8 C127.33 275.28 129.07 272.88 129.6 272.1 L129.6 272.1 C130.53 272.03 133.2 271.83 135.2 271.7 C137.2 271.57 140.53 271.37 141.6 271.3 L141.6 271.3 C142 271.85 143.43 273.18 144 274.6 C144.57 276.02 144.53 278.03 145 279.8 C145.47 281.57 145.9 282.45 146.8 285.2 C147.7 287.95 149.15 292.82 150.4 296.3 C151.65 299.78 152.83 302.83 154.3 306.1 C155.77 309.37 157.45 312.63 159.2 315.9 C160.95 319.17 162.72 322.7 164.8 325.7 C166.88 328.7 169.1 331.3 171.7 333.9 C174.3 336.5 178.3 339.52 180.4 341.3 C182.5 343.08 180.48 343.72 184.3 344.6 C188.12 345.48 193.62 346.13 203.3 346.6 C212.98 347.07 202.57 347.02 242.4 347.4 C282.23 347.78 408.98 348.65 442.3 348.9"/>
<path class="cv" stroke="#00ffff" stroke-dasharray="10.5 4.5" d="M110.9 349.5 L116.8 349.5 L116.8 349.5 C117.12 347.7 117.82 343.12 118.7 338.7 C119.58 334.28 120.83 327.78 122.1 323 C123.37 318.22 124.83 313.47 126.3 310 C127.77 306.53 129.7 304.47 130.9 302.2 C132.1 299.93 133.07 297.37 133.5 296.4 L133.5 296.4 C134.92 296.17 138.12 295.23 142 295 C145.88 294.77 154.33 295 156.8 295 L156.8 295 C157.15 295.87 157.78 297.82 158.9 300.2 C160.02 302.58 161.32 305.72 163.5 309.3 C165.68 312.88 168.97 317.67 172 321.7 C175.03 325.73 177.9 330.23 181.7 333.5 C185.5 336.77 192.35 339.83 194.8 341.3 C197.25 342.77 196.13 342.13 196.4 342.3 L196.4 342.3 L197.2 345.8 L197.2 345.8 C198.22 345.93 195.77 346.33 203.3 346.6 C210.83 346.87 202.57 347.02 242.4 347.4 C282.23 347.78 408.98 348.65 442.3 348.9"/>
</g>
<path class="ax" d="M90.6 361.9 v8.6 M90.6 17.5 v-8.6 M99.05 361.9 v4.5 M99.05 17.5 v-4.5 M107.51 361.9 v4.5 M107.51 17.5 v-4.5 M115.97 361.9 v4.5 M115.97 17.5 v-4.5 M124.42 361.9 v8.6 M124.42 17.5 v-8.6 M132.88 361.9 v4.5 M132.88 17.5 v-4.5 M141.33 361.9 v4.5 M141.33 17.5 v-4.5 M149.78 361.9 v4.5 M149.78 17.5 v-4.5 M158.24 361.9 v8.6 M158.24 17.5 v-8.6 M166.69 361.9 v4.5 M166.69 17.5 v-4.5 M175.15 361.9 v4.5 M175.15 17.5 v-4.5 M183.6 361.9 v4.5 M183.6 17.5 v-4.5 M192.06 361.9 v8.6 M192.06 17.5 v-8.6 M200.51 361.9 v4.5 M200.51 17.5 v-4.5 M208.97 361.9 v4.5 M208.97 17.5 v-4.5 M217.43 361.9 v4.5 M217.43 17.5 v-4.5 M225.88 361.9 v8.6 M225.88 17.5 v-8.6 M234.34 361.9 v4.5 M234.34 17.5 v-4.5 M242.79 361.9 v4.5 M242.79 17.5 v-4.5 M251.25 361.9 v4.5 M251.25 17.5 v-4.5 M259.7 361.9 v8.6 M259.7 17.5 v-8.6 M268.15 361.9 v4.5 M268.15 17.5 v-4.5 M276.61 361.9 v4.5 M276.61 17.5 v-4.5 M285.06 361.9 v4.5 M285.06 17.5 v-4.5 M293.52 361.9 v8.6 M293.52 17.5 v-8.6 M301.98 361.9 v4.5 M301.98 17.5 v-4.5 M310.43 361.9 v4.5 M310.43 17.5 v-4.5 M318.88 361.9 v4.5 M318.88 17.5 v-4.5 M327.34 361.9 v8.6 M327.34 17.5 v-8.6 M335.79 361.9 v4.5 M335.79 17.5 v-4.5 M344.25 361.9 v4.5 M344.25 17.5 v-4.5 M352.71 361.9 v4.5 M352.71 17.5 v-4.5 M361.16 361.9 v8.6 M361.16 17.5 v-8.6 M369.62 361.9 v4.5 M369.62 17.5 v-4.5 M378.07 361.9 v4.5 M378.07 17.5 v-4.5 M386.52 361.9 v4.5 M386.52 17.5 v-4.5 M394.98 361.9 v8.6 M394.98 17.5 v-8.6 M403.43 361.9 v4.5 M403.43 17.5 v-4.5 M411.89 361.9 v4.5 M411.89 17.5 v-4.5 M420.35 361.9 v4.5 M420.35 17.5 v-4.5 M428.8 361.9 v8.6 M428.8 17.5 v-8.6 M77.3 349.2 h-8.6 M442.3 349.2 h8.6 M77.3 340.09 h-4.5 M442.3 340.09 h4.5 M77.3 330.98 h-4.5 M442.3 330.98 h4.5 M77.3 321.87 h-4.5 M442.3 321.87 h4.5 M77.3 312.75 h-4.5 M442.3 312.75 h4.5 M77.3 303.64 h-8.6 M442.3 303.64 h8.6 M77.3 294.53 h-4.5 M442.3 294.53 h4.5 M77.3 285.42 h-4.5 M442.3 285.42 h4.5 M77.3 276.31 h-4.5 M442.3 276.31 h4.5 M77.3 267.2 h-4.5 M442.3 267.2 h4.5 M77.3 258.09 h-8.6 M442.3 258.09 h8.6 M77.3 248.97 h-4.5 M442.3 248.97 h4.5 M77.3 239.86 h-4.5 M442.3 239.86 h4.5 M77.3 230.75 h-4.5 M442.3 230.75 h4.5 M77.3 221.64 h-4.5 M442.3 221.64 h4.5 M77.3 212.53 h-8.6 M442.3 212.53 h8.6 M77.3 203.42 h-4.5 M442.3 203.42 h4.5 M77.3 194.31 h-4.5 M442.3 194.31 h4.5 M77.3 185.19 h-4.5 M442.3 185.19 h4.5 M77.3 176.08 h-4.5 M442.3 176.08 h4.5 M77.3 166.97 h-8.6 M442.3 166.97 h8.6 M77.3 157.86 h-4.5 M442.3 157.86 h4.5 M77.3 148.75 h-4.5 M442.3 148.75 h4.5 M77.3 139.64 h-4.5 M442.3 139.64 h4.5 M77.3 130.53 h-4.5 M442.3 130.53 h4.5 M77.3 121.41 h-8.6 M442.3 121.41 h8.6 M77.3 112.3 h-4.5 M442.3 112.3 h4.5 M77.3 103.19 h-4.5 M442.3 103.19 h4.5 M77.3 94.08 h-4.5 M442.3 94.08 h4.5 M77.3 84.97 h-4.5 M442.3 84.97 h4.5 M77.3 75.86 h-8.6 M442.3 75.86 h8.6 M77.3 66.75 h-4.5 M442.3 66.75 h4.5 M77.3 57.63 h-4.5 M442.3 57.63 h4.5 M77.3 48.52 h-4.5 M442.3 48.52 h4.5 M77.3 39.41 h-4.5 M442.3 39.41 h4.5 M77.3 30.3 h-8.6 M442.3 30.3 h8.6"/>
<rect class="ax" x="77.3" y="17.5" width="365" height="344.4"/>
<text class="tk" transform="translate(90.6,390.9) scale(0.94,1.06)">0</text><text class="tk" transform="translate(124.42,390.9) scale(0.94,1.06)">1</text><text class="tk" transform="translate(158.24,390.9) scale(0.94,1.06)">2</text><text class="tk" transform="translate(192.06,390.9) scale(0.94,1.06)">3</text><text class="tk" transform="translate(225.88,390.9) scale(0.94,1.06)">4</text><text class="tk" transform="translate(259.7,390.9) scale(0.94,1.06)">5</text><text class="tk" transform="translate(293.52,390.9) scale(0.94,1.06)">6</text><text class="tk" transform="translate(327.34,390.9) scale(0.94,1.06)">7</text><text class="tk" transform="translate(361.16,390.9) scale(0.94,1.06)">8</text><text class="tk" transform="translate(394.98,390.9) scale(0.94,1.06)">9</text><text class="tk" transform="translate(428.8,390.9) scale(0.94,1.06)">10</text>
<text class="tk" transform="translate(58.5,349.2) rotate(-90) scale(1.07,1.08)">0</text><text class="tk" transform="translate(58.5,303.64) rotate(-90) scale(1.07,1.08)">10</text><text class="tk" transform="translate(58.5,258.09) rotate(-90) scale(1.07,1.08)">20</text><text class="tk" transform="translate(58.5,212.53) rotate(-90) scale(1.07,1.08)">30</text><text class="tk" transform="translate(58.5,166.97) rotate(-90) scale(1.07,1.08)">40</text><text class="tk" transform="translate(58.5,121.41) rotate(-90) scale(1.07,1.08)">50</text><text class="tk" transform="translate(58.5,75.86) rotate(-90) scale(1.07,1.08)">60</text><text class="tk" transform="translate(58.5,30.3) rotate(-90) scale(1.07,1.08)">70</text>
<text class="lb" transform="translate(259.1,423.2) scale(1.003,0.95)">distance (AU)</text>
<text class="lb" transform="translate(25.5,190) rotate(-90) scale(1.004,0.95)">transit (Gyr)</text>
<text class="tt" transform="translate(97.5,34.25) scale(1.008,1.035)">Z = 0.040, Y = 0.2886</text>
<rect class="ax" x="330.6" y="17.5" width="111.7" height="115.9" fill="#fff" style="fill:#fff"/>
<path class="lg" stroke="#000000" d="M344 36.9 H374.1"/><text class="le" transform="translate(387.9,41.1) scale(0.945,1.07)">0.7 <tspan font-style="italic" dx="1.2">M</tspan></text><circle cx="431.5" cy="40.8" r="3.5" fill="none" stroke="#000" stroke-width="0.55"/><circle cx="431.5" cy="40.8" r="0.8" fill="#000"/>
<path class="lg" stroke="#ff0000" stroke-dasharray="4 4" d="M344 56.2 H374.1"/><text class="le" transform="translate(387.9,60.4) scale(0.945,1.07)">0.8 <tspan font-style="italic" dx="1.2">M</tspan></text><circle cx="431.5" cy="60.1" r="3.5" fill="none" stroke="#000" stroke-width="0.55"/><circle cx="431.5" cy="60.1" r="0.8" fill="#000"/>
<path class="lg" stroke="#00cd00" stroke-dasharray="1 3" d="M344 75.5 H374.1"/><text class="le" transform="translate(387.9,79.7) scale(0.945,1.07)">0.9 <tspan font-style="italic" dx="1.2">M</tspan></text><circle cx="431.5" cy="79.4" r="3.5" fill="none" stroke="#000" stroke-width="0.55"/><circle cx="431.5" cy="79.4" r="0.8" fill="#000"/>
<path class="lg" stroke="#0000ff" stroke-dasharray="1 3 4 3" d="M344 94.8 H374.1"/><text class="le" transform="translate(387.9,99) scale(0.945,1.07)">1.0 <tspan font-style="italic" dx="1.2">M</tspan></text><circle cx="430.6" cy="98.7" r="3.5" fill="none" stroke="#000" stroke-width="0.55"/><circle cx="430.6" cy="98.7" r="0.8" fill="#000"/>
<path class="lg" stroke="#00ffff" stroke-dasharray="7 3" d="M344 114.1 H374.1"/><text class="le" transform="translate(387.9,118.3) scale(0.945,1.07)">1.1 <tspan font-style="italic" dx="1.2">M</tspan></text><circle cx="430.6" cy="118" r="3.5" fill="none" stroke="#000" stroke-width="0.55"/><circle cx="430.6" cy="118" r="0.8" fill="#000"/>
</g>
<g transform="translate(460,436)">
<clipPath id="c3"><rect x="77.3" y="17.5" width="365" height="344.4"/></clipPath>
<g clip-path="url(#c3)">
<path class="cv" stroke="#000000" d="M102.1 349.5 C102.27 339.22 102.7 307.87 103.1 287.8 C103.5 267.73 104.12 244.73 104.5 229.1 C104.88 213.47 104.92 208.63 105.4 194 C105.88 179.37 106.8 155.63 107.4 141.3 C108 126.97 108.42 118.1 109 108 C109.58 97.9 110.18 88.85 110.9 80.7 C111.62 72.55 112.42 65.3 113.3 59.1 C114.18 52.9 115.23 47.8 116.2 43.5 C117.17 39.2 118.62 35 119.1 33.3 L119.1 33.3 C119.27 37.6 119.6 48.93 120.1 59.1 C120.6 69.27 121.45 83.2 122.1 94.3 C122.75 105.4 123.35 115.25 124 125.7 C124.65 136.15 125.35 146.45 126 157 C126.65 167.55 127.25 179.27 127.9 189 C128.55 198.73 129.08 206.1 129.9 215.4 C130.72 224.7 131.67 235.02 132.8 244.8 C133.93 254.58 135.38 265.62 136.7 274.1 C138.02 282.58 139.23 288.85 140.7 295.7 C142.17 302.55 143.72 309.67 145.5 315.2 C147.28 320.73 149.62 325.52 151.4 328.9 C153.18 332.28 154.6 333.82 156.2 335.5 C157.8 337.18 159.2 338.08 161 339 C162.8 339.92 164.63 340.43 167 341 C169.37 341.57 171.65 341.93 175.2 342.4 C178.75 342.87 183.95 343.38 188.3 343.8 C192.65 344.22 194.78 344.53 201.3 344.9 C207.82 345.27 218.27 345.7 227.4 346 C236.53 346.3 220.28 346.23 256.1 346.7 C291.92 347.17 411.27 348.45 442.3 348.8"/>
<path class="cv" stroke="#ff0000" stroke-dasharray="6 6" d="M104.1 349.3 L106.4 349.3 L106.4 349.3 C106.45 347.28 106.57 341.4 106.7 337.2 C106.83 333 107.02 328.35 107.2 324.1 C107.38 319.85 107.6 316.12 107.8 311.7 C108 307.28 107.98 306.47 108.4 297.6 C108.82 288.73 109.55 271.55 110.3 258.5 C111.05 245.45 112 230.88 112.9 219.3 C113.8 207.72 114.82 196.13 115.7 189 C116.58 181.87 117.3 180.87 118.2 176.5 C119.1 172.13 120.05 166.38 121.1 162.8 C122.15 159.22 123.93 156.3 124.5 155 L124.5 155 L129.5 154.3 L129.5 154.3 C129.8 155.4 130.68 155.88 131.3 160.9 C131.92 165.92 132.37 175.63 133.2 184.4 C134.03 193.17 135.22 203.77 136.3 213.5 C137.38 223.23 138.48 233.67 139.7 242.8 C140.92 251.93 142.13 260.15 143.6 268.3 C145.07 276.45 146.72 284.53 148.5 291.7 C150.28 298.87 152.35 305.75 154.3 311.3 C156.25 316.85 158.07 320.92 160.2 325 C162.33 329.08 164.82 333.03 167.1 335.8 C169.38 338.57 170.37 340.27 173.9 341.6 C177.43 342.93 183.73 343.25 188.3 343.8 C192.87 344.35 194.78 344.53 201.3 344.9 C207.82 345.27 218.27 345.7 227.4 346 C236.53 346.3 220.28 346.23 256.1 346.7 C291.92 347.17 411.27 348.45 442.3 348.8"/>
<path class="cv" stroke="#00cd00" stroke-dasharray="1.5 4.5" d="M107.8 349.3 L111.2 349.3 L111.2 349.3 C111.33 347.8 111.73 343.82 112 340.3 C112.27 336.78 112.53 332.22 112.8 328.2 C113.07 324.18 113.3 320.22 113.6 316.2 C113.9 312.18 114.3 307.13 114.6 304.1 C114.9 301.07 115.1 301 115.4 298 C115.7 295 116 290.12 116.4 286.1 C116.8 282.08 117.32 277.93 117.8 273.9 C118.28 269.87 118.68 265.88 119.3 261.9 C119.92 257.92 120.63 253.93 121.5 250 C122.37 246.07 123.32 242.18 124.5 238.3 C125.68 234.42 127.3 229.23 128.6 226.7 C129.9 224.17 130.67 223.92 132.3 223.1 C133.93 222.28 136.65 221.85 138.4 221.8 C140.15 221.75 142.07 222.63 142.8 222.8 L142.8 222.8 C143.07 223.92 143.75 226.37 144.4 229.5 C145.05 232.63 145.92 237.62 146.7 241.6 C147.48 245.58 148.28 249.47 149.1 253.4 C149.92 257.33 150.75 261.25 151.6 265.2 C152.45 269.15 153.22 273.15 154.2 277.1 C155.18 281.05 156.68 286 157.5 288.9 C158.32 291.8 158 291.42 159.1 294.5 C160.2 297.58 162.12 302.97 164.1 307.4 C166.08 311.83 168.72 317.02 171 321.1 C173.28 325.18 175.35 328.8 177.8 331.9 C180.25 335 183.08 337.75 185.7 339.7 C188.32 341.65 190.9 342.73 193.5 343.6 C196.1 344.47 195.65 344.5 201.3 344.9 C206.95 345.3 218.27 345.7 227.4 346 C236.53 346.3 220.28 346.23 256.1 346.7 C291.92 347.17 411.27 348.45 442.3 348.8"/>
<path class="cv" stroke="#0000ff" stroke-dasharray="1.5 4.5 6 4.5" d="M111.3 349.3 L117.1 349.3 L117.1 349.3 C117.28 348.37 117.92 345.58 118.2 343.7 C118.48 341.82 118.52 340.35 118.8 338 C119.08 335.65 119.57 332.32 119.9 329.6 C120.23 326.88 120.43 324.47 120.8 321.7 C121.17 318.93 121.67 315.78 122.1 313 C122.53 310.22 123.02 307.48 123.4 305 C123.78 302.52 123.82 300.78 124.4 298.1 C124.98 295.42 126.2 291.42 126.9 288.9 C127.6 286.38 128 284.8 128.6 283 C129.2 281.2 129.77 279.73 130.5 278.1 C131.23 276.47 132.18 274.92 133 273.2 C133.82 271.48 134.92 269.18 135.4 267.8 C135.88 266.42 135.82 265.38 135.9 264.9 L135.9 264.9 C137.18 264.77 141.4 264.35 143.6 264.1 C145.8 263.85 146.98 263.58 149.1 263.4 C151.22 263.22 155.1 263.07 156.3 263 L156.3 263 C156.7 263.4 158.02 264.1 158.7 265.4 C159.38 266.7 159.8 269.02 160.4 270.8 C161 272.58 161.4 273.42 162.3 276.1 C163.2 278.78 164.53 283.38 165.8 286.9 C167.07 290.42 168.87 294.43 169.9 297.2 C170.93 299.97 170.35 300.17 172 303.5 C173.65 306.83 177.2 313.28 179.8 317.2 C182.4 321.12 185 324.23 187.6 327 C190.2 329.77 193.12 331.85 195.4 333.8 C197.68 335.75 200.05 337.67 201.3 338.7 C202.55 339.73 202.63 339.78 202.9 340 L202.9 340 L203.3 344.6 L203.3 344.6 C207.32 344.83 218.6 345.65 227.4 346 C236.2 346.35 220.28 346.23 256.1 346.7 C291.92 347.17 411.27 348.45 442.3 348.8"/>
<path class="cv" stroke="#00ffff" stroke-dasharray="10.5 4.5" d="M115.2 349.3 L124.3 349.3 L124.3 349.3 C124.48 348.23 124.73 346.35 125.4 342.9 C126.07 339.45 127.6 332.3 128.3 328.6 C129 324.9 129.17 323.67 129.6 320.7 C130.03 317.73 130.68 312.45 130.9 310.8 L130.9 310.8 C131.22 310.33 131.83 308.67 132.8 308 C133.77 307.33 136.05 307 136.7 306.8 L136.7 306.8 C136.92 306.08 136.8 304.75 138 302.5 C139.2 300.25 142.65 295.27 143.9 293.3 C145.15 291.33 145.23 291.13 145.5 290.7 L145.5 290.7 C147.17 290.5 152.72 289.8 155.5 289.5 C158.28 289.2 158.9 288.98 162.2 288.9 C165.5 288.82 173.12 288.98 175.3 289 L175.3 289 C176.15 290.6 179.15 296.25 180.4 298.6 C181.65 300.95 181.6 300.93 182.8 303.1 C184 305.27 186.53 309.42 187.6 311.6 C188.67 313.78 188.33 313.8 189.2 316.2 C190.07 318.6 192.07 324.03 192.8 326 C193.53 327.97 193.47 327.67 193.6 328 L193.6 328 C194.05 328.1 194.03 328.25 196.3 328.6 C198.57 328.95 205.38 329.85 207.2 330.1 L207.2 330.1 C207.63 330.72 208.17 332.43 209.8 333.8 C211.43 335.17 215.67 337.18 217 338.3 C218.33 339.42 217.67 340.13 217.8 340.5 L217.8 340.5 L218.6 345.5 L218.6 345.5 C220.07 345.58 221.15 345.8 227.4 346 C233.65 346.2 220.28 346.23 256.1 346.7 C291.92 347.17 411.27 348.45 442.3 348.8"/>
</g>
<path class="ax" d="M90.6 361.9 v8.6 M90.6 17.5 v-8.6 M99.05 361.9 v4.5 M99.05 17.5 v-4.5 M107.51 361.9 v4.5 M107.51 17.5 v-4.5 M115.97 361.9 v4.5 M115.97 17.5 v-4.5 M124.42 361.9 v8.6 M124.42 17.5 v-8.6 M132.88 361.9 v4.5 M132.88 17.5 v-4.5 M141.33 361.9 v4.5 M141.33 17.5 v-4.5 M149.78 361.9 v4.5 M149.78 17.5 v-4.5 M158.24 361.9 v8.6 M158.24 17.5 v-8.6 M166.69 361.9 v4.5 M166.69 17.5 v-4.5 M175.15 361.9 v4.5 M175.15 17.5 v-4.5 M183.6 361.9 v4.5 M183.6 17.5 v-4.5 M192.06 361.9 v8.6 M192.06 17.5 v-8.6 M200.51 361.9 v4.5 M200.51 17.5 v-4.5 M208.97 361.9 v4.5 M208.97 17.5 v-4.5 M217.43 361.9 v4.5 M217.43 17.5 v-4.5 M225.88 361.9 v8.6 M225.88 17.5 v-8.6 M234.34 361.9 v4.5 M234.34 17.5 v-4.5 M242.79 361.9 v4.5 M242.79 17.5 v-4.5 M251.25 361.9 v4.5 M251.25 17.5 v-4.5 M259.7 361.9 v8.6 M259.7 17.5 v-8.6 M268.15 361.9 v4.5 M268.15 17.5 v-4.5 M276.61 361.9 v4.5 M276.61 17.5 v-4.5 M285.06 361.9 v4.5 M285.06 17.5 v-4.5 M293.52 361.9 v8.6 M293.52 17.5 v-8.6 M301.98 361.9 v4.5 M301.98 17.5 v-4.5 M310.43 361.9 v4.5 M310.43 17.5 v-4.5 M318.88 361.9 v4.5 M318.88 17.5 v-4.5 M327.34 361.9 v8.6 M327.34 17.5 v-8.6 M335.79 361.9 v4.5 M335.79 17.5 v-4.5 M344.25 361.9 v4.5 M344.25 17.5 v-4.5 M352.71 361.9 v4.5 M352.71 17.5 v-4.5 M361.16 361.9 v8.6 M361.16 17.5 v-8.6 M369.62 361.9 v4.5 M369.62 17.5 v-4.5 M378.07 361.9 v4.5 M378.07 17.5 v-4.5 M386.52 361.9 v4.5 M386.52 17.5 v-4.5 M394.98 361.9 v8.6 M394.98 17.5 v-8.6 M403.43 361.9 v4.5 M403.43 17.5 v-4.5 M411.89 361.9 v4.5 M411.89 17.5 v-4.5 M420.35 361.9 v4.5 M420.35 17.5 v-4.5 M428.8 361.9 v8.6 M428.8 17.5 v-8.6 M77.3 349.2 h-8.6 M442.3 349.2 h8.6 M77.3 340.09 h-4.5 M442.3 340.09 h4.5 M77.3 330.98 h-4.5 M442.3 330.98 h4.5 M77.3 321.87 h-4.5 M442.3 321.87 h4.5 M77.3 312.75 h-4.5 M442.3 312.75 h4.5 M77.3 303.64 h-8.6 M442.3 303.64 h8.6 M77.3 294.53 h-4.5 M442.3 294.53 h4.5 M77.3 285.42 h-4.5 M442.3 285.42 h4.5 M77.3 276.31 h-4.5 M442.3 276.31 h4.5 M77.3 267.2 h-4.5 M442.3 267.2 h4.5 M77.3 258.09 h-8.6 M442.3 258.09 h8.6 M77.3 248.97 h-4.5 M442.3 248.97 h4.5 M77.3 239.86 h-4.5 M442.3 239.86 h4.5 M77.3 230.75 h-4.5 M442.3 230.75 h4.5 M77.3 221.64 h-4.5 M442.3 221.64 h4.5 M77.3 212.53 h-8.6 M442.3 212.53 h8.6 M77.3 203.42 h-4.5 M442.3 203.42 h4.5 M77.3 194.31 h-4.5 M442.3 194.31 h4.5 M77.3 185.19 h-4.5 M442.3 185.19 h4.5 M77.3 176.08 h-4.5 M442.3 176.08 h4.5 M77.3 166.97 h-8.6 M442.3 166.97 h8.6 M77.3 157.86 h-4.5 M442.3 157.86 h4.5 M77.3 148.75 h-4.5 M442.3 148.75 h4.5 M77.3 139.64 h-4.5 M442.3 139.64 h4.5 M77.3 130.53 h-4.5 M442.3 130.53 h4.5 M77.3 121.41 h-8.6 M442.3 121.41 h8.6 M77.3 112.3 h-4.5 M442.3 112.3 h4.5 M77.3 103.19 h-4.5 M442.3 103.19 h4.5 M77.3 94.08 h-4.5 M442.3 94.08 h4.5 M77.3 84.97 h-4.5 M442.3 84.97 h4.5 M77.3 75.86 h-8.6 M442.3 75.86 h8.6 M77.3 66.75 h-4.5 M442.3 66.75 h4.5 M77.3 57.63 h-4.5 M442.3 57.63 h4.5 M77.3 48.52 h-4.5 M442.3 48.52 h4.5 M77.3 39.41 h-4.5 M442.3 39.41 h4.5 M77.3 30.3 h-8.6 M442.3 30.3 h8.6"/>
<rect class="ax" x="77.3" y="17.5" width="365" height="344.4"/>
<text class="tk" transform="translate(90.6,390.9) scale(0.94,1.06)">0</text><text class="tk" transform="translate(124.42,390.9) scale(0.94,1.06)">1</text><text class="tk" transform="translate(158.24,390.9) scale(0.94,1.06)">2</text><text class="tk" transform="translate(192.06,390.9) scale(0.94,1.06)">3</text><text class="tk" transform="translate(225.88,390.9) scale(0.94,1.06)">4</text><text class="tk" transform="translate(259.7,390.9) scale(0.94,1.06)">5</text><text class="tk" transform="translate(293.52,390.9) scale(0.94,1.06)">6</text><text class="tk" transform="translate(327.34,390.9) scale(0.94,1.06)">7</text><text class="tk" transform="translate(361.16,390.9) scale(0.94,1.06)">8</text><text class="tk" transform="translate(394.98,390.9) scale(0.94,1.06)">9</text><text class="tk" transform="translate(428.8,390.9) scale(0.94,1.06)">10</text>
<text class="tk" transform="translate(58.5,349.2) rotate(-90) scale(1.07,1.08)">0</text><text class="tk" transform="translate(58.5,303.64) rotate(-90) scale(1.07,1.08)">5</text><text class="tk" transform="translate(58.5,258.09) rotate(-90) scale(1.07,1.08)">10</text><text class="tk" transform="translate(58.5,212.53) rotate(-90) scale(1.07,1.08)">15</text><text class="tk" transform="translate(58.5,166.97) rotate(-90) scale(1.07,1.08)">20</text><text class="tk" transform="translate(58.5,121.41) rotate(-90) scale(1.07,1.08)">25</text><text class="tk" transform="translate(58.5,75.86) rotate(-90) scale(1.07,1.08)">30</text><text class="tk" transform="translate(58.5,30.3) rotate(-90) scale(1.07,1.08)">35</text>
<text class="lb" transform="translate(259.1,423.2) scale(1.003,0.95)">distance (AU)</text>
<text class="lb" transform="translate(25.5,190) rotate(-90) scale(1.004,0.95)">transit (Gyr)</text>
<text class="tt" transform="translate(97.5,34.25) scale(1.008,1.035)">Z = 0.040, Y = 0.3686</text>
<rect class="ax" x="330.6" y="17.5" width="111.7" height="115.9" fill="#fff" style="fill:#fff"/>
<path class="lg" stroke="#000000" d="M344 36.9 H374.1"/><text class="le" transform="translate(387.9,41.1) scale(0.945,1.07)">0.7 <tspan font-style="italic" dx="1.2">M</tspan></text><circle cx="431.5" cy="40.8" r="3.5" fill="none" stroke="#000" stroke-width="0.55"/><circle cx="431.5" cy="40.8" r="0.8" fill="#000"/>
<path class="lg" stroke="#ff0000" stroke-dasharray="4 4" d="M344 56.2 H374.1"/><text class="le" transform="translate(387.9,60.4) scale(0.945,1.07)">0.8 <tspan font-style="italic" dx="1.2">M</tspan></text><circle cx="431.5" cy="60.1" r="3.5" fill="none" stroke="#000" stroke-width="0.55"/><circle cx="431.5" cy="60.1" r="0.8" fill="#000"/>
<path class="lg" stroke="#00cd00" stroke-dasharray="1 3" d="M344 75.5 H374.1"/><text class="le" transform="translate(387.9,79.7) scale(0.945,1.07)">0.9 <tspan font-style="italic" dx="1.2">M</tspan></text><circle cx="431.5" cy="79.4" r="3.5" fill="none" stroke="#000" stroke-width="0.55"/><circle cx="431.5" cy="79.4" r="0.8" fill="#000"/>
<path class="lg" stroke="#0000ff" stroke-dasharray="1 3 4 3" d="M344 94.8 H374.1"/><text class="le" transform="translate(387.9,99) scale(0.945,1.07)">1.0 <tspan font-style="italic" dx="1.2">M</tspan></text><circle cx="430.6" cy="98.7" r="3.5" fill="none" stroke="#000" stroke-width="0.55"/><circle cx="430.6" cy="98.7" r="0.8" fill="#000"/>
<path class="lg" stroke="#00ffff" stroke-dasharray="7 3" d="M344 114.1 H374.1"/><text class="le" transform="translate(387.9,118.3) scale(0.945,1.07)">1.1 <tspan font-style="italic" dx="1.2">M</tspan></text><circle cx="430.6" cy="118" r="3.5" fill="none" stroke="#000" stroke-width="0.55"/><circle cx="430.6" cy="118" r="0.8" fill="#000"/>
</g>
</svg>
</body></html>
